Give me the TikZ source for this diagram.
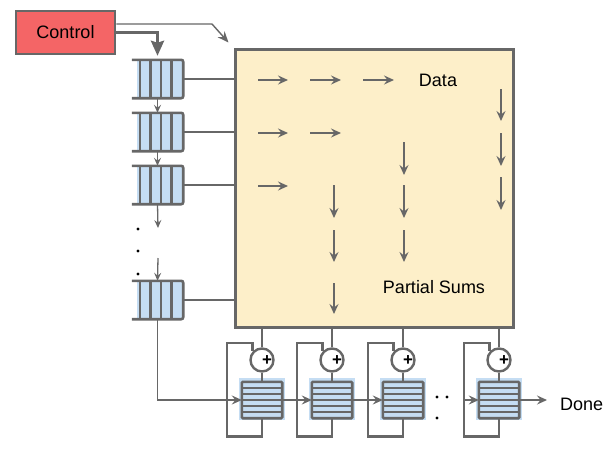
\documentclass[tikz,border=0pt]{standalone}
\usepackage{fontspec}
\setmainfont{Liberation Sans}
\usetikzlibrary{arrows.meta,calc}
\definecolor{gc}{HTML}{676767}
\definecolor{ctlred}{HTML}{F46566}
\definecolor{cream}{HTML}{FDEFC9}
\definecolor{qblue}{HTML}{C5DDF3}
\tikzset{
  ln/.style={draw=gc, line width=2.6pt},
  thinarr/.style={draw=gc, line width=1.3pt, -{Stealth[length=10pt,width=9pt,inset=3.5pt]}},
  smallarr/.style={draw=gc, line width=1.3pt, -{Stealth[length=8pt,width=7pt,inset=3pt]}},
  lbl/.style={font=\fontsize{18}{21}\selectfont, inner sep=0pt},
  qnode/.style={inner sep=0pt, minimum width=51pt, minimum height=38pt},
  anode/.style={inner sep=0pt, minimum width=40pt, minimum height=36pt},
  adder/.style={circle, draw=gc, line width=2.4pt, fill=white, minimum size=23pt, inner sep=0pt},
  dotm/.style={fill=black},
}
\newcommand\leftqueue[2]{%
  \node[qnode] (#1) at (157.5,#2) {};
  \fill[qblue] ($(#1.north west)+(5,0)$) rectangle (#1.south east);
  \foreach \dx in {8,18.5,29,39.5}
    \draw[ln] ($(#1.north west)+(\dx,0)$) -- ($(#1.south west)+(\dx,0)$);
  \draw[ln, rounded corners=2pt] (#1.north west) -- (#1.north east) -- (#1.south east) -- (#1.south west);
}
\newcommand\accum[3]{%
  \node[adder] (#1) at (#3,360) {};
  \node[font=\bfseries\fontsize{17}{17}\selectfont, inner sep=0pt] at ($(#1)+(5,1)$) {+};
  \node[anode] (#2) at (#3,400) {};
  \fill[qblue] ($(#2.north west)+(-3,-4)$) rectangle ($(#2.south east)+(3,2)$);
  \foreach \dy in {6,12,18,24,30}
    \draw[ln] ($(#2.north west)+(0,\dy)$) -- ($(#2.north east)+(0,\dy)$);
  \draw[ln, rounded corners=1pt] (#2.north west) rectangle (#2.south east);
  \draw[ln] (#1.south) -- (#2.north);
  \draw[ln] (#2.south) -- ++(0,18) -| ($(#1)+(-35,-17)$) -| (#1.137);
  \draw[ln] (pe.south -| #1) -- (#1.north);
}
\begin{document}
\begin{tikzpicture}[x=1pt,y=-1pt]
\useasboundingbox (0,0) rectangle (616,456);

% main array
\node[draw=gc, line width=3pt, fill=cream, minimum width=278pt, minimum height=278pt, inner sep=0pt] (pe) at (374,188) {};
\node[lbl] (data) at (438,80) {Data};
\node[lbl] (psum) at (434,287) {Partial Sums};

% inner arrows
\foreach \xa/\ya/\xb/\yb in {258/80/288/80, 310/80/341/80, 363/80/394/80,
    258/133/288/133, 310/133/341/133, 258/186/288/186,
    501/89/501/121, 501/133/501/166, 501/177/501/210,
    404/142/404/175, 404/185/404/218, 404/230/404/262,
    334/185/334/218, 334/230/334/262, 334/283/334/314}
  \draw[thinarr] (\xa,\ya) -- (\xb,\yb);

% control
\node[draw=gc, line width=2.6pt, fill=ctlred, minimum width=99pt, minimum height=43pt, inner sep=0pt, lbl] (ctl) at (65.5,32.5) {Control};
\coordinate (cbend) at (212,24);
\coordinate (cend) at ($(pe.north west)+(-5,-5)$);
\draw[draw=gc, line width=1.4pt, -{Stealth[length=11pt,width=9pt,inset=3.5pt]}] ($(ctl.east)+(0,-8.5)$) -- (cbend) -- (cend);

% left queues
\leftqueue{q1}{79}
\leftqueue{q2}{132}
\leftqueue{q3}{185}
\leftqueue{q4}{300}
\draw[draw=gc, line width=3.2pt, -{Stealth[length=15pt,width=13pt,inset=2pt]}, shorten >=4pt] (ctl.east) -| (q1.north);
\foreach \q in {q1,q2,q3,q4}
  \draw[ln] (\q.east) -- (\q.east -| pe.west);
\draw[smallarr] (q1.south) -- (q2.north);
\draw[smallarr] (q2.south) -- (q3.north);
\coordinate (d1) at (158,228);
\coordinate (d2) at (158,258);
\draw[smallarr] (q3.south) -- (d1);
\draw[smallarr] (d2) -- (q4.north);
\foreach \yy in {229,251,274} \fill[dotm] (138,\yy) circle (1.6);

% accumulators
\accum{a1}{s1}{262}
\accum{a2}{s2}{332}
\accum{a3}{s3}{403}
\accum{a4}{s4}{499}
\draw[thinarr, line width=1.4pt] (q4.south) |- (s1.west);
\draw[thinarr, line width=1.4pt] (s1.east) -- (s2.west);
\draw[thinarr, line width=1.4pt] (s2.east) -- (s3.west);
\coordinate (in4) at (464,400);
\draw[thinarr, line width=1.4pt] (in4) -- (s4.west);
\coordinate (dend) at (547,400);
\draw[thinarr, line width=1.4pt] (s4.east) -- (dend);
\node[lbl, anchor=west] (done) at (560,404) {Done};
\foreach \px/\py in {437/397, 447/397, 437/418} \fill[dotm] (\px,\py) circle (1.6);
\end{tikzpicture}
\end{document}
